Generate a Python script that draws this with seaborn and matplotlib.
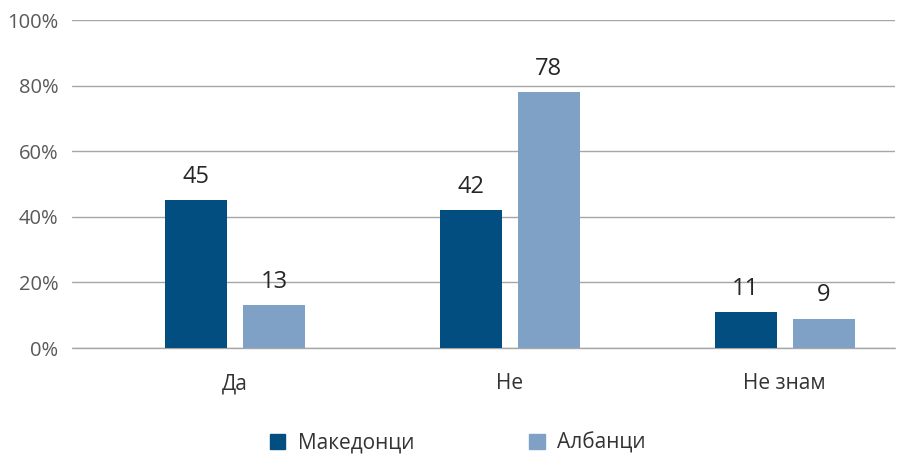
import pandas as pd
import matplotlib.pyplot as plt
import seaborn as sns

# données
categories = ["Да", "Не", "Не знам"]
makedonci = [45, 42, 11]
albanci = [13, 78, 9]
series = ["Македонци", "Албанци"]
colors = ["#034e80", "#7fa1c5"]

df = pd.DataFrame({
    "cat": categories * 2,
    "grupa": [series[0]] * 3 + [series[1]] * 3,
    "val": makedonci + albanci,
})

sns.set_style("white")
plt.rcParams["font.family"] = ["Open Sans", "DejaVu Sans"]

fig = plt.figure(figsize=(9.01, 4.55), dpi=100)
ax = fig.add_axes([0.08, 0.235, 0.913, 0.721])

sns.barplot(data=df, x="cat", y="val", hue="grupa", palette=colors,
            width=0.567, gap=0.205, ax=ax, legend=False, saturation=1,
            linewidth=0)

for c in ax.containers:
    ax.bar_label(c, fmt="%d", padding=8, fontsize=17, color="#262626")

ax.set_ylim(0, 100)
ax.set_xlim(-0.593, 2.4)
ax.set_yticks(range(0, 101, 20))
ax.set_yticklabels([f"{v}%" for v in range(0, 101, 20)])
ax.yaxis.grid(True, color="#a6a6a6", linewidth=1)
ax.axhline(0, color="#a6a6a6", linewidth=1, clip_on=False, zorder=0.5)
ax.set_axisbelow(True)
for s in ax.spines.values():
    s.set_visible(False)
ax.tick_params(axis="y", length=0, labelsize=14.5, colors="#595959", pad=10)
ax.tick_params(axis="x", length=0, labelsize=15, colors="#333333", pad=18)
ax.set_xlabel("")
ax.set_ylabel("")

# légende
handles = [plt.Rectangle((0, 0), 1, 1, color=col) for col in colors]
fig.legend(handles, series, loc="center", bbox_to_anchor=(0.508, 0.026),
           ncol=2, frameon=False, fontsize=15, handlelength=0.75,
           handleheight=0.75, columnspacing=5.5, handletextpad=0.6,
           labelcolor="#333333")

fig.savefig("out.png", dpi=100)
